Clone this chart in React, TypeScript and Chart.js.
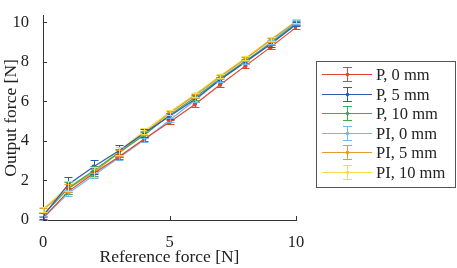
import React, { useEffect, useRef } from "react";
import { Chart, registerables } from "chart.js";
Chart.register(...registerables);

const xValues = [0, 1, 2, 3, 4, 5, 6, 7, 8, 9, 10];
const seriesNames = ["P, 0 mm", "P, 5 mm", "P, 10 mm", "PI, 0 mm", "PI, 5 mm", "PI, 10 mm"];
const p0 = [0.1, 1.45, 2.35, 3.2, 4.1, 4.95, 5.85, 6.85, 7.8, 8.75, 9.75];
const p5 = [0.2, 1.8, 2.7, 3.5, 4.4, 5.25, 6.1, 7.1, 8.0, 8.9, 9.9];
const p10 = [0.25, 1.6, 2.5, 3.4, 4.3, 5.3, 6.2, 7.15, 8.05, 8.95, 9.95];
const pi0 = [0.1, 1.35, 2.25, 3.15, 4.05, 5.05, 6.05, 7.1, 8.0, 9.0, 10.0];
const pi5 = [0.5, 1.6, 2.4, 3.4, 4.4, 5.4, 6.3, 7.25, 8.15, 9.1, 10.05];
const pi10 = [0.55, 1.7, 2.45, 3.5, 4.5, 5.45, 6.35, 7.3, 8.2, 9.15, 10.05];
const p0Err = [0.1, 0.15, 0.15, 0.12, 0.1, 0.1, 0.12, 0.12, 0.12, 0.12, 0.1];
const p5Err = [0.15, 0.4, 0.35, 0.3, 0.2, 0.15, 0.15, 0.12, 0.12, 0.12, 0.1];
const p10Err = [0.12, 0.3, 0.25, 0.2, 0.15, 0.12, 0.12, 0.1, 0.1, 0.1, 0.1];
const pi0Err = [0.1, 0.15, 0.12, 0.1, 0.1, 0.1, 0.1, 0.1, 0.1, 0.1, 0.1];
const pi5Err = [0.1, 0.2, 0.2, 0.15, 0.12, 0.1, 0.1, 0.1, 0.1, 0.1, 0.1];
const pi10Err = [0.12, 0.25, 0.25, 0.2, 0.15, 0.12, 0.1, 0.1, 0.1, 0.1, 0.1];
const colors = ["#E0452B", "#2E5BB0", "#3DAA5E", "#72B8EE", "#E39B2D", "#F2E04A"];
const xTicks = [0, 5, 10];
const yTicks = [0, 2, 4, 6, 8, 10];

const allValues = [p0, p5, p10, pi0, pi5, pi10];
const allErrs = [p0Err, p5Err, p10Err, pi0Err, pi5Err, pi10Err];

const FONT = "'Liberation Serif', 'Times New Roman', serif";
const TICK_SIZE = 16.5;
const TITLE_SIZE = 17.5;
const LEGEND_SIZE = 16.5;

const errorBarPlugin = {
  id: "errorBars",
  afterDatasetsDraw(chart: any) {
    const ctx = chart.ctx;
    const xs = chart.scales.x;
    const ys = chart.scales.y;
    ctx.save();
    chart.data.datasets.forEach((ds: any, i: number) => {
      ctx.strokeStyle = colors[i];
      ctx.lineWidth = 1;
      ds.data.forEach((pt: any, j: number) => {
        const e = allErrs[i][j];
        const px = Math.round(xs.getPixelForValue(pt.x)) + 0.5;
        const y1 = Math.round(ys.getPixelForValue(pt.y - e)) + 0.5;
        const y2 = Math.round(ys.getPixelForValue(pt.y + e)) + 0.5;
        ctx.beginPath();
        ctx.moveTo(px, y1);
        ctx.lineTo(px, y2);
        ctx.moveTo(px - 4, y1);
        ctx.lineTo(px + 4, y1);
        ctx.moveTo(px - 4, y2);
        ctx.lineTo(px + 4, y2);
        ctx.stroke();
      });
    });
    ctx.restore();
  },
  afterDraw(chart: any) {
    const ctx = chart.ctx;
    const xs = chart.scales.x;
    const ys = chart.scales.y;
    const area = chart.chartArea;
    ctx.save();
    ctx.strokeStyle = "#333";
    ctx.lineWidth = 1;
    ctx.beginPath();
    xTicks.forEach((v) => {
      const px = Math.round(xs.getPixelForValue(v)) + 0.5;
      ctx.moveTo(px, area.bottom);
      ctx.lineTo(px, area.bottom - 4);
    });
    yTicks.forEach((v) => {
      const py = Math.round(ys.getPixelForValue(v)) + 0.5;
      ctx.moveTo(area.left, py);
      ctx.lineTo(area.left + 4, py);
    });
    ctx.stroke();
    // legend
    const left = 316.5, top = 61.5, w = 139, h = 126;
    ctx.fillStyle = "#fff";
    ctx.fillRect(left, top, w, h);
    ctx.strokeStyle = "#555";
    ctx.strokeRect(left, top, w, h);
    ctx.font = `${LEGEND_SIZE}px ${FONT}`;
    ctx.textBaseline = "middle";
    ctx.textAlign = "left";
    seriesNames.forEach((name, i) => {
      const y = Math.round(74 + i * 19.6) + 0.5;
      ctx.strokeStyle = colors[i];
      ctx.lineWidth = 1;
      ctx.beginPath();
      ctx.moveTo(322, y);
      ctx.lineTo(372, y);
      ctx.moveTo(347.5, y - 7);
      ctx.lineTo(347.5, y + 7);
      ctx.moveTo(343, y - 7);
      ctx.lineTo(352, y - 7);
      ctx.moveTo(343, y + 7);
      ctx.lineTo(352, y + 7);
      ctx.stroke();
      ctx.fillStyle = colors[i];
      ctx.beginPath();
      ctx.arc(347.5, y, 1.8, 0, Math.PI * 2);
      ctx.fill();
      ctx.fillStyle = "#222";
      ctx.fillText(name, 376, y + 1);
    });
    ctx.restore();
  },
};

export default function App() {
  const ref = useRef<HTMLCanvasElement | null>(null);
  useEffect(() => {
    if (!ref.current) return;
    const chart = new Chart(ref.current, {
      type: "line",
      data: {
        datasets: seriesNames.map((name, i) => ({
          label: name,
          data: xValues.map((x, j) => ({ x, y: allValues[i][j] })),
          borderColor: colors[i],
          backgroundColor: colors[i],
          borderWidth: 1.2,
          pointRadius: 1.6,
          pointHoverRadius: 1.6,
          fill: false,
          tension: 0,
        })),
      },
      options: {
        animation: false,
        responsive: false,
        events: [],
        layout: { padding: { top: 3, right: 161, left: 0, bottom: 0 } },
        plugins: { legend: { display: false }, tooltip: { enabled: false } },
        scales: {
          x: {
            type: "linear",
            min: 0,
            max: 10,
            afterBuildTicks: (s: any) => { s.ticks = xTicks.map((v) => ({ value: v })); },
            afterFit: (s: any) => { s.height = 48; },
            grid: { display: false },
            border: { display: true, color: "#333" },
            ticks: { font: { family: FONT, size: TICK_SIZE }, color: "#222", padding: 5, maxRotation: 0 },
            title: { display: true, text: "Reference force [N]", font: { family: FONT, size: TITLE_SIZE }, color: "#222", padding: { top: 0, bottom: 0 } },
          },
          y: {
            type: "linear",
            min: 0,
            max: 10.33,
            afterBuildTicks: (s: any) => { s.ticks = yTicks.map((v) => ({ value: v })); },
            afterFit: (s: any) => { s.width = 43; },
            grid: { display: false },
            border: { display: true, color: "#333" },
            ticks: { font: { family: FONT, size: TICK_SIZE }, color: "#222", padding: 6 },
            title: { display: true, text: "Output force [N]", font: { family: FONT, size: TITLE_SIZE }, color: "#222", padding: { top: 1, bottom: 0 } },
          },
        },
      },
      plugins: [errorBarPlugin],
    } as any);
    return () => chart.destroy();
  }, []);
  return (
    <div style={{ position: "fixed", left: 0, top: 0, width: 457, height: 268, background: "#fff" }}>
      <canvas ref={ref} width={457} height={268} style={{ display: "block" }} />
    </div>
  );
}
